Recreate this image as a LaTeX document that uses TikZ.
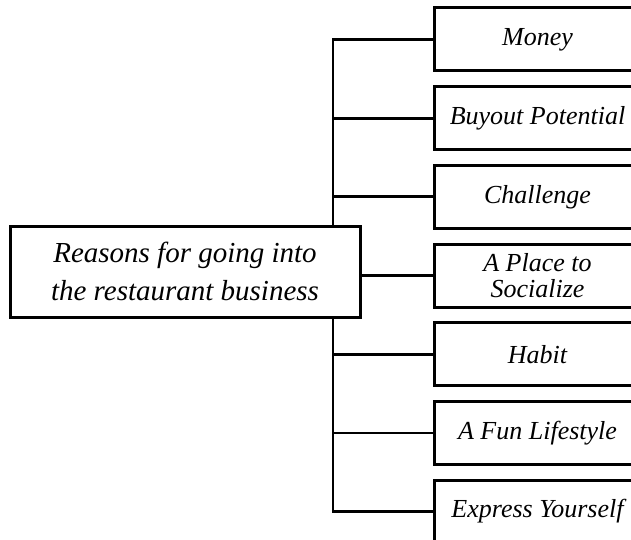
\documentclass[tikz,border=0pt]{standalone}
\usepackage{fontspec}
\setmainfont{Liberation Serif}
\begin{document}
\begin{tikzpicture}[x=1pt, y=-1pt,
    topic/.style={draw, line width=3pt, fill=white, minimum width=350pt, minimum height=91pt, inner sep=0pt, align=center, font=\itshape\fontsize{29}{38}\selectfont},
    reason/.style={draw, line width=3pt, fill=white, minimum width=207pt, minimum height=63pt, inner sep=0pt, align=center, font=\itshape\fontsize{26}{26}\selectfont},
    branch/.style={line width=2.7pt}]
    \useasboundingbox (0, 0) rectangle (631, 540);
    \clip (0, 0) rectangle (631, 540);
    \coordinate (trunk) at (333, 0);
    \node[topic] (topic) at (185, 271.5) {Reasons for going into\\the restaurant business};
    \foreach \name/\txt [count=\i from 0] in {money/Money, buyout/Buyout Potential, challenge/Challenge, place/{A Place to\\Socialize}, habit/Habit, fun/A Fun Lifestyle, express/Express Yourself}
        \node[reason] (\name) at (537.5, 39.5 + 78.67*\i) {\txt};
    % trunk above and below the topic box
    \draw[branch] (topic.north -| trunk) |- (money.west);
    \draw[branch] (topic.south -| trunk) |- (express.west);
    \foreach \name in {buyout, challenge, habit, fun}
        \draw[branch] (\name.west -| trunk) -- (\name.west);
    \draw[branch] (topic.east |- place.west) -- (place.west);
\end{tikzpicture}
\end{document}
